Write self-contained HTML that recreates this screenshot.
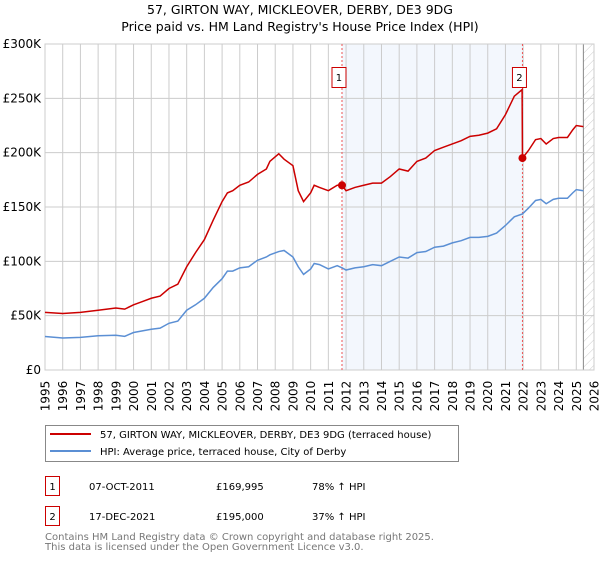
<!DOCTYPE html>
<html><head><meta charset="utf-8"><style>
body{margin:0;background:#fff;font-family:"DejaVu Sans","Liberation Sans",sans-serif;}
svg text{font-family:"DejaVu Sans","Liberation Sans",sans-serif;}
</style></head><body>
<svg id="chart" width="600" height="560" xmlns="http://www.w3.org/2000/svg">
<defs><pattern id="hatch" width="6" height="6" patternUnits="userSpaceOnUse" patternTransform="rotate(45)"><line x1="0" y1="0" x2="0" y2="6" stroke="#ccc" stroke-width="1"/></pattern></defs>
<text x="300" y="14" text-anchor="middle" font-size="12.5">57, GIRTON WAY, MICKLEOVER, DERBY, DE3 9DG</text>
<text x="300" y="31" text-anchor="middle" font-size="12.5">Price paid vs. HM Land Registry's House Price Index (HPI)</text>
<g id="grid"></g><g id="marks"></g><g id="axes"></g>
<rect x="45.5" y="425.5" width="413" height="36" fill="#fff" stroke="#888"/>
<line x1="50" y1="434" x2="91" y2="434" stroke="#cc0000" stroke-width="2"/>
<text x="100" y="438" font-size="10">57, GIRTON WAY, MICKLEOVER, DERBY, DE3 9DG (terraced house)</text>
<line x1="50" y1="451" x2="91" y2="451" stroke="#5b8fd4" stroke-width="2"/>
<text x="100" y="455" font-size="10">HPI: Average price, terraced house, City of Derby</text>
<g font-size="10">
<rect x="45.5" y="476.5" width="14" height="19" fill="#fff" stroke="#cc0000"/><text x="52.5" y="490" text-anchor="middle">1</text>
<text x="89" y="490">07-OCT-2011</text><text x="216" y="490">£169,995</text><text x="312" y="490">78% ↑ HPI</text></g>
<g font-size="10">
<rect x="45.5" y="506.5" width="14" height="19" fill="#fff" stroke="#cc0000"/><text x="52.5" y="520" text-anchor="middle">2</text>
<text x="89" y="520">17-DEC-2021</text><text x="216" y="520">£195,000</text><text x="312" y="520">37% ↑ HPI</text></g>
<text x="45" y="540" font-size="10" fill="#777">Contains HM Land Registry data © Crown copyright and database right 2025.</text>
<text x="45" y="550" font-size="10" fill="#777">This data is licensed under the Open Government Licence v3.0.</text>
</svg>
<script>
const yTicks=[0,50,100,150,200,250,300];
const yTickLabels=["£0","£50K","£100K","£150K","£200K","£250K","£300K"];
const xTicks=[1995,1996,1997,1998,1999,2000,2001,2002,2003,2004,2005,2006,2007,2008,2009,2010,2011,2012,2013,2014,2015,2016,2017,2018,2019,2020,2021,2022,2023,2024,2025,2026];
const hpiYears=[1995,1996,1997,1998,1999,1999.5,2000,2000.5,2001,2001.5,2002,2002.5,2003,2003.5,2004,2004.5,2005,2005.3,2005.6,2006,2006.5,2007,2007.5,2007.7,2008.2,2008.5,2009,2009.3,2009.6,2010,2010.2,2010.5,2011,2011.5,2011.77,2012,2012.5,2013,2013.5,2014,2014.5,2015,2015.5,2016,2016.5,2017,2017.5,2018,2018.5,2019,2019.5,2020,2020.5,2021,2021.5,2021.96,2022.3,2022.7,2023,2023.3,2023.7,2024,2024.5,2024.8,2025,2025.4];
const hpiValues=[30.8,29.5,30,31.5,32,31,34.5,36,37.5,38.5,43,45,55,60,66,76,84,91,91,94,95,101,104,106,109,110,104,95,88,93,98,97,93,96,94,92,94,95,97,96,100,104,103,108,109,113,114,117,119,122,122,123,126,133,141,143.6,149,156,157,153,157,158,158,163,166,165];
const priceYears=[1995,1996,1997,1998,1999,1999.5,2000,2000.5,2001,2001.5,2002,2002.5,2003,2003.5,2004,2004.5,2005,2005.3,2005.6,2006,2006.5,2007,2007.5,2007.7,2008.2,2008.5,2009,2009.3,2009.6,2010,2010.2,2010.5,2011,2011.5,2011.77,2012,2012.5,2013,2013.5,2014,2014.5,2015,2015.5,2016,2016.5,2017,2017.5,2018,2018.5,2019,2019.5,2020,2020.5,2021,2021.5,2021.94,2021.96,2022.3,2022.7,2023,2023.3,2023.7,2024,2024.5,2024.8,2025,2025.4];
const priceValues=[53,52,53,55,57,56,60,63,66,68,75,79,95,108,120,138,155,163,165,170,173,180,185,192,199,194,188,165,155,163,170,168,165,170,170,165,168,170,172,172,178,185,183,192,195,202,205,208,211,215,216,218,222,235,252,258,195,202,212,213,208,213,214,214,221,225,224];
const saleYears=[2011.77,2021.96];
const salePrices=[169.995,195];
const saleLabels=["1","2"];
const X0=45,X1=594,Y0=370,Y1=44;
const xs=y=>X0+(y-1995)/(2026-1995)*(X1-X0);
const ys=v=>Y0-v/300*(Y0-Y1);
const NS="http://www.w3.org/2000/svg";
function mk(t,a,p){const e=document.createElementNS(NS,t);for(const k in a)e.setAttribute(k,a[k]);p.appendChild(e);return e;}
const grid=document.getElementById('grid'),marks=document.getElementById('marks'),axes=document.getElementById('axes');
const shade=mk('rect',{x:xs(saleYears[0]),y:Y1,width:xs(saleYears[1])-xs(saleYears[0]),height:Y0-Y1,fill:'#eef3fc',opacity:0.7},grid);


const hatch=mk('rect',{x:xs(2025.4),y:Y1,width:X1-xs(2025.4),height:Y0-Y1,fill:'url(#hatch)'},grid);


mk('line',{x1:xs(2025.4),y1:Y1,x2:xs(2025.4),y2:Y0,stroke:'#888'},grid);
xTicks.forEach(t=>{
 mk('line',{x1:xs(t),y1:Y1,x2:xs(t),y2:Y0,stroke:'#ccc'},grid);
 const tx=mk('text',{x:0,y:0,transform:`translate(${xs(t)+4.5},${Y0+26}) rotate(-90)`,'text-anchor':'middle','font-size':'12'},axes);
 tx.textContent=t;
 
 
});
yTicks.forEach((t,i)=>{
 mk('line',{x1:X0,y1:ys(t),x2:X1,y2:ys(t),stroke:'#ccc'},grid);
 const tx=mk('text',{x:X0-4,y:ys(t)+4,'text-anchor':'end','font-size':'12'},axes);
 tx.textContent=yTickLabels[i];
 
 
});
mk('rect',{x:X0,y:Y1,width:X1-X0,height:Y0-Y1,fill:'none',stroke:'#ccc'},grid);
saleYears.forEach((s,i)=>{
 mk('line',{x1:xs(s),y1:Y1,x2:xs(s),y2:Y0,stroke:'#e55','stroke-dasharray':'2,2','stroke-width':1},marks);
});
const hp=mk('polyline',{points:hpiYears.map((y,i)=>xs(y)+','+ys(hpiValues[i])).join(' '),fill:'none',stroke:'#5b8fd4','stroke-width':1.5},marks);


const pp=mk('polyline',{points:priceYears.map((y,i)=>xs(y)+','+ys(priceValues[i])).join(' '),fill:'none',stroke:'#cc0000','stroke-width':1.5},marks);


saleYears.forEach((s,i)=>{
 const c=mk('circle',{cx:xs(s),cy:ys(salePrices[i]),r:4,fill:'#cc0000'},marks);
 
 
 const b=mk('rect',{x:xs(s)-10,y:67.5,width:14,height:20,fill:'#fff',stroke:'#cc0000'},marks);
 
 
 const t=mk('text',{x:xs(s)-3,y:81,'text-anchor':'middle','font-size':'10'},marks);
 t.textContent=saleLabels[i];
 
 
});
</script>
</body></html>
